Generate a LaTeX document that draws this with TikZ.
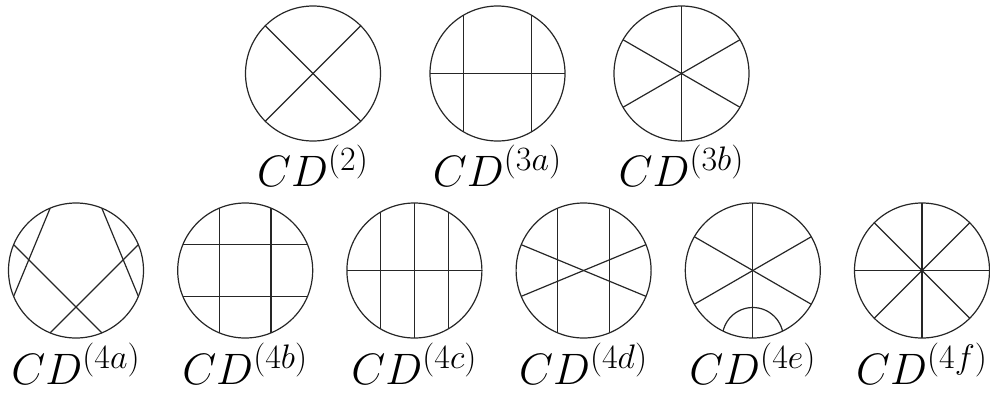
\RequirePackage{fix-cm}
\documentclass[tikz,border=0pt]{standalone}
\DeclareMathSizes{22}{22}{17}{13}
\begin{document}
\begin{tikzpicture}[x=0.5pt,y=-0.5pt,
  ln/.style={line width=0.6pt,black!85},
  lbl/.style={anchor=base,inner sep=0pt,font=\fontsize{22}{26}\selectfont}]
\useasboundingbox (0,0) rectangle (990,392);
\def\R{67.5}
% CD(2)
\begin{scope}[shift={(313,73.5)},yscale=-1]
  \draw[ln] (0,0) circle (\R);
  \draw[ln] (45:\R) -- (225:\R);
  \draw[ln] (135:\R) -- (315:\R);
\end{scope}
% CD(3a)
\begin{scope}[shift={(497.5,73.5)},yscale=-1]
  \draw[ln] (0,0) circle (\R);
  \draw[ln] (180:\R) -- (0:\R);
  \draw[ln] (60:\R) -- (300:\R);
  \draw[ln] (120:\R) -- (240:\R);
\end{scope}
% CD(3b)
\begin{scope}[shift={(681.5,73.5)},yscale=-1]
  \draw[ln] (0,0) circle (\R);
  \draw[ln] (90:\R) -- (270:\R);
  \draw[ln] (30:\R) -- (210:\R);
  \draw[ln] (150:\R) -- (330:\R);
\end{scope}
% CD(4a)
\begin{scope}[shift={(76,270.5)},yscale=-1]
  \draw[ln] (0,0) circle (\R);
  \draw[ln] (157.5:\R) -- (292.5:\R);
  \draw[ln] (22.5:\R) -- (247.5:\R);
  \draw[ln] (202.5:\R) -- (112.5:\R);
  \draw[ln] (337.5:\R) -- (67.5:\R);
\end{scope}
% CD(4b)
\begin{scope}[shift={(245.2,270.5)},yscale=-1]
  \draw[ln] (0,0) circle (\R);
  \draw[ln] (22.5:\R) -- (157.5:\R);
  \draw[ln] (202.5:\R) -- (337.5:\R);
  \draw[ln] (67.5:\R) -- (292.5:\R);
  \draw[ln] (112.5:\R) -- (247.5:\R);
\end{scope}
% CD(4c)
\begin{scope}[shift={(414.4,270.5)},yscale=-1]
  \draw[ln] (0,0) circle (\R);
  \draw[ln] (0:\R) -- (180:\R);
  \draw[ln] (60:\R) -- (300:\R);
  \draw[ln] (120:\R) -- (240:\R);
  \draw[ln] (90:\R) -- (270:\R);
\end{scope}
% CD(4d)
\begin{scope}[shift={(583.6,270.5)},yscale=-1]
  \draw[ln] (0,0) circle (\R);
  \draw[ln] (22.5:\R) -- (202.5:\R);
  \draw[ln] (157.5:\R) -- (337.5:\R);
  \draw[ln] (67.5:\R) -- (292.5:\R);
  \draw[ln] (112.5:\R) -- (247.5:\R);
\end{scope}
% CD(4e)
\begin{scope}[shift={(752.8,270.5)},yscale=-1]
  \draw[ln] (0,0) circle (\R);
  \draw[ln] (90:\R) -- (270:\R);
  \draw[ln] (30:\R) -- (210:\R);
  \draw[ln] (150:\R) -- (330:\R);
  \begin{scope}
    \clip (0,0) circle (\R);
    \draw[ln] (270:\R) circle (30.5);
  \end{scope}
\end{scope}
% CD(4f)
\begin{scope}[shift={(922,270.5)},yscale=-1]
  \draw[ln] (0,0) circle (\R);
  \draw[ln] (0:\R) -- (180:\R);
  \draw[ln] (45:\R) -- (225:\R);
  \draw[ln] (90:\R) -- (270:\R);
  \draw[ln] (135:\R) -- (315:\R);
\end{scope}
% labels
\node[lbl] (l2)  at (313,186.5)   {$CD^{(2)}$};
\node[lbl] (l3a) at (497.5,186.5) {$CD^{(3a)}$};
\node[lbl] (l3b) at (681.5,186.5) {$CD^{(3b)}$};
\node[lbl] (l4a) at (76,384.5)    {$CD^{(4a)}$};
\node[lbl] (l4b) at (245.2,384.5) {$CD^{(4b)}$};
\node[lbl] (l4c) at (414.4,384.5) {$CD^{(4c)}$};
\node[lbl] (l4d) at (583.6,384.5) {$CD^{(4d)}$};
\node[lbl] (l4e) at (752.8,384.5) {$CD^{(4e)}$};
\node[lbl] (l4f) at (922,384.5)   {$CD^{(4f)}$};
\end{tikzpicture}
\end{document}
